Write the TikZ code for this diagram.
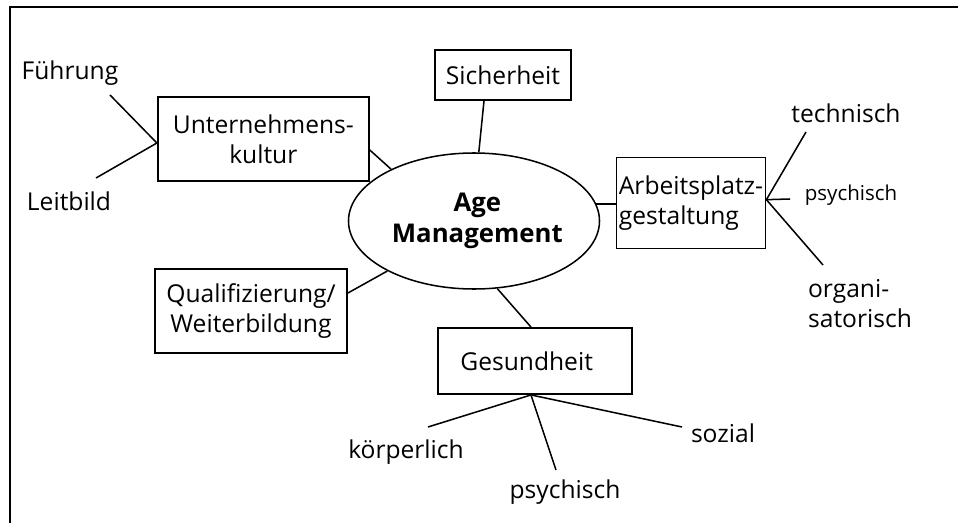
\documentclass[tikz,border=0pt]{standalone}
\usepackage{fontspec}
\setmainfont{Open Sans}
\usetikzlibrary{shapes.geometric,positioning,calc}
\tikzset{
  line cap=round,
  line join=round,
  every picture/.style={line width=1.3pt},
  txt/.style={font=\fontsize{21}{25.5}\selectfont, inner sep=1pt},
  smalltxt/.style={font=\fontsize{17.5}{21}\selectfont, inner sep=1pt},
  box/.style={draw, line width=1.6pt, align=center, inner sep=2pt, font=\fontsize{21}{25.5}\selectfont},
  hub/.style={draw, ellipse, line width=1.3pt, inner sep=0pt, minimum width=7.14cm, minimum height=4.08cm, align=center, font=\fontsize{22}{27}\selectfont\bfseries},
  branch/.style={line width=1.3pt}
}
\begin{document}
\begin{tikzpicture}
    \useasboundingbox (0,0) rectangle (28.74,15.69);
    % Rahmen (oben und links)
    \draw[line width=1.6pt] (28.74,15.48) -- (0.3,15.48) -- (0.3,0);

    % Mitte
    \node[hub] (age) at (14.22,9.06) {\hspace*{0.2cm}Age\\\hspace*{0.2cm}Management};

    % Felder rund um die Mitte
    \node[box, minimum width=6.33cm, minimum height=2.52cm] (kultur) at (7.9,11.52) {Unternehmens-\\kultur};
    \node[box, minimum width=4.08cm, minimum height=1.5cm] (sicher) at (15.09,13.44) {Sicherheit};
    \node[box, minimum width=4.38cm, minimum height=2.73cm, align=left] (arbeit) at (20.73,9.6) {Arbeitsplatz-\\gestaltung};
    \node[box, minimum width=5.76cm, minimum height=2.52cm] (quali) at (7.53,6.36) {Qualifizierung/\\Weiterbildung};
    \node[box, minimum width=5.82cm, minimum height=1.98cm] (gesund) at (16.05,4.86) {Gesundheit\hspace*{0.5cm}};

    % Unterpunkte
    \node[txt] (fuehrung) at (2.1,13.5) {Führung};
    \node[txt] (leitbild) at (2.07,9.66) {Leitbild};
    \node[txt] (technisch) at (25.38,12.3) {technisch};
    \node[smalltxt] (psychA) at (25.53,9.84) {psychisch};
    \node[txt, align=left] (organi) at (25.8,6.57) {organi-\\satorisch};
    \node[txt] (koerper) at (12.18,2.13) {körperlich};
    \node[txt] (psychB) at (16.95,0.93) {psychisch};
    \node[txt] (sozial) at (21.69,2.7) {sozial};

    % freie Enden der Linien
    \coordinate (eF) at (3.3,12.84);
    \coordinate (eL) at (2.88,10.35);
    \coordinate (eT) at (24.18,11.73);
    \coordinate (eP) at (23.7,9.72);
    \coordinate (eO) at (24.69,7.74);
    \coordinate (eK) at (12.84,2.88);
    \coordinate (eS) at (16.68,1.59);
    \coordinate (eZ) at (20.46,2.88);

    % Verbindungen zur Mitte
    \draw ([yshift=-0.33cm]kultur.east) -- (age.148);
    \draw ([xshift=-0.57cm]sicher.south) -- (age.86);
    \draw (age.8) -- (age.8 -| arbeit.west);
    \draw ([yshift=0.54cm]quali.east) -- (age.210);
    \draw ([xshift=-0.12cm]gesund.north) -- (age.-71);

    % Verzweigungen
    \draw[branch] (eF) -- ([yshift=-0.12cm]kultur.west) -- (eL);
    \draw[branch] (eT) -- ([yshift=0.1cm]arbeit.east) -- (eO);
    \draw[branch] ([yshift=0.1cm]arbeit.east) -- (eP);
    \draw[branch] (eK) -- ([xshift=-0.12cm]gesund.south) -- (eZ);
    \draw[branch] ([xshift=-0.12cm]gesund.south) -- (eS);
\end{tikzpicture}
\end{document}
